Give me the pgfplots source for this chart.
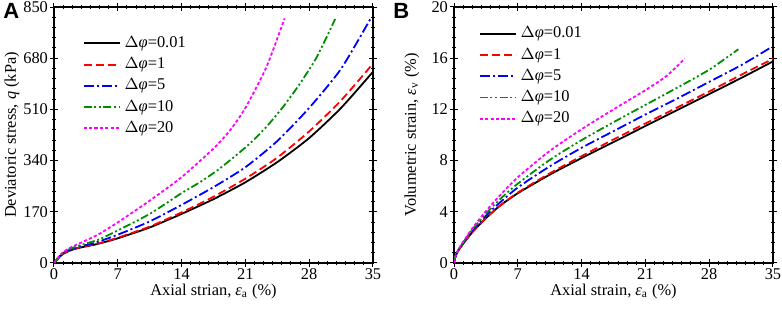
\documentclass[border=0pt]{standalone}
\usepackage{fontspec}
\setmainfont{Liberation Serif}
\newfontfamily\panelfont{Liberation Sans}
\usepackage{pgfplots}
\pgfplotsset{compat=1.18}
\definecolor{cgreen}{RGB}{0,140,0}
\definecolor{cmag}{RGB}{255,0,255}
\pgfplotsset{
  common/.style={
    scale only axis, width=159.5pt, height=128pt,
    xmin=0, xmax=35, xtick={0,7,...,35}, minor x tick num=6,
    tick align=center, major tick length=4pt, minor tick length=2pt,
    tick style={black, line width=0.5pt},
    axis line style={line width=0.6pt},
    font=\fontsize{8.2}{9.5}\selectfont,
    tick label style={font=\fontsize{8.2}{9.5}\selectfont},
    label style={font=\fontsize{8.2}{9.5}\selectfont},
    xticklabel style={yshift=2.5pt},
    yticklabel style={xshift=2.5pt},
    xlabel style={at={(axis description cs:0.5,0)}, anchor=center, yshift=-14.5pt},
    ylabel style={at={(axis description cs:-0.1317,0.5)}, anchor=center},
    /pgf/number format/assume math mode=true,
    legend cell align=left,
    legend style={draw=none, fill=none, font=\fontsize{8.2}{9.5}\selectfont, row sep=-0.35pt},
    legend image code/.code={\draw[##1, line width=0.9pt] (0pt,0pt) -- (18pt,0pt);},
  },
  s1/.style={black, solid, line width=0.9pt},
  s2/.style={red, line width=0.9pt, dash pattern=on 4pt off 2pt},
  s3/.style={blue, line width=0.9pt, dash pattern=on 5pt off 1.5pt on 1pt off 1.5pt},
  s4/.style={cgreen, line width=0.9pt, dash pattern=on 4pt off 1.3pt on 1pt off 1.3pt on 1pt off 1.3pt},
  s5/.style={cmag, line width=0.9pt, dash pattern=on 1.6pt off 1.1pt},
}
\begin{document}
\begin{tikzpicture}
\begin{axis}[common, name=axA,
  ymin=0, ymax=850, ytick={0,170,...,850}, minor y tick num=4,
  xlabel={Axial strian, \textit{ε}\textsubscript{a} (\%)},
  ylabel={Deviatoric stress, \textit{q} (kPa)},
  legend style={at={(rel axis cs:0.07,0.918)}, anchor=north west},
]
\addplot[s1, smooth, tension=0.4] coordinates {(0,0) (0.3,10) (0.6,20) (1,30) (1.5,38) (2,44) (3,52) (4,58) (5,65) (7,82) (10.5,118) (14,163) (17.5,212) (21,268) (24.5,335) (28,415) (31.5,515) (35,635)};
\addplot[s2, smooth, tension=0.4] coordinates {(0,0) (0.3,10) (0.6,20) (1,31) (1.5,39) (2,45) (3,53) (4,59) (5,66) (7,84) (10.5,121) (14,168) (17.5,220) (21,280) (24.5,350) (28,437) (31.5,540) (35,662)};
\addplot[s3, smooth, tension=0.4] coordinates {(0,0) (0.3,11) (0.6,22) (1,33) (1.5,41) (2,47) (3,56) (4,63) (5,72) (7,94) (10.5,138) (14,193) (17.5,252) (21,318) (24.5,405) (28,515) (31.5,645) (34.8,815)};
\addplot[s4, smooth, tension=0.4] coordinates {(0,0) (0.3,12) (0.6,23) (1,34) (1.5,43) (2,50) (3,60) (4,69) (5,79) (7,108) (10.5,163) (14,232) (16,268) (17.8,305) (19.6,348) (21.5,397) (23.3,452) (25.1,517) (26.9,592) (28.8,682) (30.85,810)};
\addplot[s5, smooth, tension=0.4] coordinates {(0,0) (0.3,12) (0.6,24) (1,36) (1.5,46) (2,54) (3,68) (4,82) (5,97) (7,135) (10.5,207) (14,285) (17.5,380) (19.3,440) (21,515) (23.3,650) (25.3,812)};
\legend{$\Delta\textit{φ}$=0.01, $\Delta\textit{φ}$=1, $\Delta\textit{φ}$=5, $\Delta\textit{φ}$=10, $\Delta\textit{φ}$=20}
\end{axis}
\node[anchor=north west, inner sep=0pt, font=\panelfont\bfseries\fontsize{11}{12}\selectfont] at (axA.north west) [xshift=-25.5pt, yshift=2pt] {A};
\begin{axis}[common, name=axB, xshift=200pt,
  ymin=0, ymax=20, ytick={0,4,...,20}, minor y tick num=4,
  xlabel={Axial strain, \textit{ε}\textsubscript{a} (\%)},
  ylabel={Volumetric strain, \textit{ε}\textsubscript{v} (\%)},
  legend style={at={(rel axis cs:0.058,0.955)}, anchor=north west},
]
\addplot[s1, smooth, tension=0.4] coordinates {(0,0) (0.1,0.35) (0.25,0.65) (0.5,1.0) (1,1.5) (2,2.4) (3.5,3.5) (5,4.45) (7,5.45) (10.5,6.9) (14,8.2) (17.5,9.45) (21,10.7) (24.5,11.95) (28,13.2) (31.5,14.45) (35,15.75)};
\addplot[s2, smooth, tension=0.4] coordinates {(0,0) (0.1,0.35) (0.25,0.65) (0.5,1.0) (1,1.5) (2,2.4) (3.5,3.5) (5,4.45) (7,5.5) (10.5,7.0) (14,8.35) (17.5,9.65) (21,10.9) (24.5,12.15) (28,13.4) (31.5,14.7) (35,15.95)};
\addplot[s3, smooth, tension=0.4] coordinates {(0,0) (0.1,0.35) (0.25,0.7) (0.5,1.05) (1,1.55) (2,2.5) (3.5,3.7) (5,4.7) (7,5.9) (10.5,7.55) (14,9.0) (17.5,10.3) (21,11.6) (24.5,12.85) (28,14.15) (31.5,15.45) (34.8,16.85)};
\addplot[s4, smooth, tension=0.4] coordinates {(0,0) (0.1,0.35) (0.25,0.7) (0.5,1.05) (1,1.6) (2,2.6) (3.5,3.85) (5,4.95) (7,6.2) (10.5,8.05) (14,9.6) (17.5,11.0) (21,12.35) (24.5,13.7) (28,15.1) (31.2,16.7)};
\addplot[s5, smooth, tension=0.4] coordinates {(0,0) (0.1,0.35) (0.25,0.7) (0.5,1.1) (1,1.65) (2,2.7) (3.5,4.05) (5,5.25) (7,6.7) (10.5,8.75) (14,10.45) (17.5,12.0) (21,13.5) (23.3,14.6) (25.3,15.95)};
\legend{$\Delta\textit{φ}$=0.01, $\Delta\textit{φ}$=1, $\Delta\textit{φ}$=5, $\Delta\textit{φ}$=10, $\Delta\textit{φ}$=20}
\end{axis}
\node[anchor=north west, inner sep=0pt, font=\panelfont\bfseries\fontsize{11}{12}\selectfont] at (axB.north west) [xshift=-30.5pt, yshift=2pt] {B};
\pgfresetboundingbox
\path (-27pt,-23pt) rectangle (364pt,131.5pt);
\end{tikzpicture}
\end{document}
